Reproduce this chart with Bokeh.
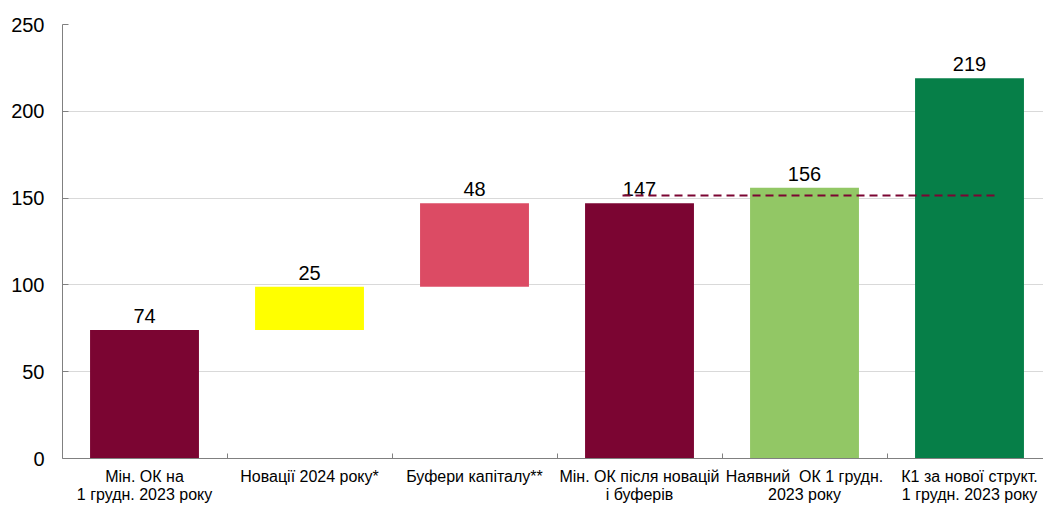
from bokeh.plotting import figure
from bokeh.models import ColumnDataSource, Range1d, FixedTicker
from bokeh.core.properties import value
from bokeh.embed import file_html
from bokeh.resources import INLINE

categories = ["Мін. ОК на\n1 грудн. 2023 року", "Новації 2024 року*", "Буфери капіталу**",
              "Мін. ОК після новацій\nі буферів", "Наявний\u00a0 ОК 1 грудн.\n2023 року",
              "К1 за нової структ.\n1 грудн. 2023 року"]
bar_bottoms = [0, 74, 99, 0, 0, 0]
bar_tops = [74, 99, 147, 147, 156, 219]
value_labels = ["74", "25", "48", "147", "156", "219"]
colors = ["#7b0532", "#ffff00", "#dc4b64", "#7b0532", "#92c765", "#067f48"]
ref_line_value = 151.5
y_ticks = [0, 50, 100, 150, 200, 250]

xs = list(range(len(categories)))
src = ColumnDataSource(dict(x=xs, bottom=bar_bottoms, top=bar_tops, color=colors,
                            label=value_labels))

p = figure(width=1043, height=506, output_backend="svg", toolbar_location=None,
           x_range=Range1d(-0.497, -0.497 + 981 / 165), y_range=Range1d(0, 250),
           min_border_left=62, min_border_right=0, min_border_top=24, min_border_bottom=0)
p.outline_line_color = None
p.background_fill_color = "white"

p.vbar(x="x", bottom="bottom", top="top", width=0.66, fill_color="color",
       line_color=None, source=src)
p.text(x="x", y="top", text="label", source=src, text_align="center",
       text_baseline="bottom", y_offset=-7, text_font=value("Liberation Sans"),
       text_font_size="20px", text_color="#000000")

p.line(x=[2.897, 5.158], y=[ref_line_value, ref_line_value], line_color="#7b0532",
       line_width=2, line_dash="8 5")

# y axis
p.yaxis.ticker = FixedTicker(ticks=y_ticks)
p.yaxis.axis_line_color = "#808080"
p.yaxis.major_tick_line_color = "#808080"
p.yaxis.major_tick_in = 6
p.yaxis.major_tick_out = 0
p.yaxis.minor_tick_line_color = None
p.yaxis.major_label_standoff = 18
p.yaxis.major_label_text_font = "Liberation Sans"
p.yaxis.major_label_text_font_size = "20px"
p.yaxis.major_label_text_color = "#000000"
p.ygrid.grid_line_color = "#d9d9d9"
p.ygrid.ticker = FixedTicker(ticks=y_ticks)

# x axis
p.xaxis.ticker = FixedTicker(ticks=xs, minor_ticks=[i + 0.5 for i in range(-1, len(xs))])
p.xaxis.major_label_overrides = {i: c for i, c in enumerate(categories)}
p.xaxis.axis_line_color = "#808080"
p.xaxis.major_tick_line_color = None
p.xaxis.minor_tick_line_color = "#808080"
p.xaxis.minor_tick_in = 5
p.xaxis.minor_tick_out = 0
p.xaxis.major_label_standoff = 3
p.xaxis.major_label_text_font = "Liberation Sans"
p.xaxis.major_label_text_font_size = "16px"
p.xaxis.major_label_text_color = "#000000"
p.xaxis.major_label_text_line_height = 1.1
p.xgrid.grid_line_color = None

open("out.html", "w").write(file_html(p, INLINE))
